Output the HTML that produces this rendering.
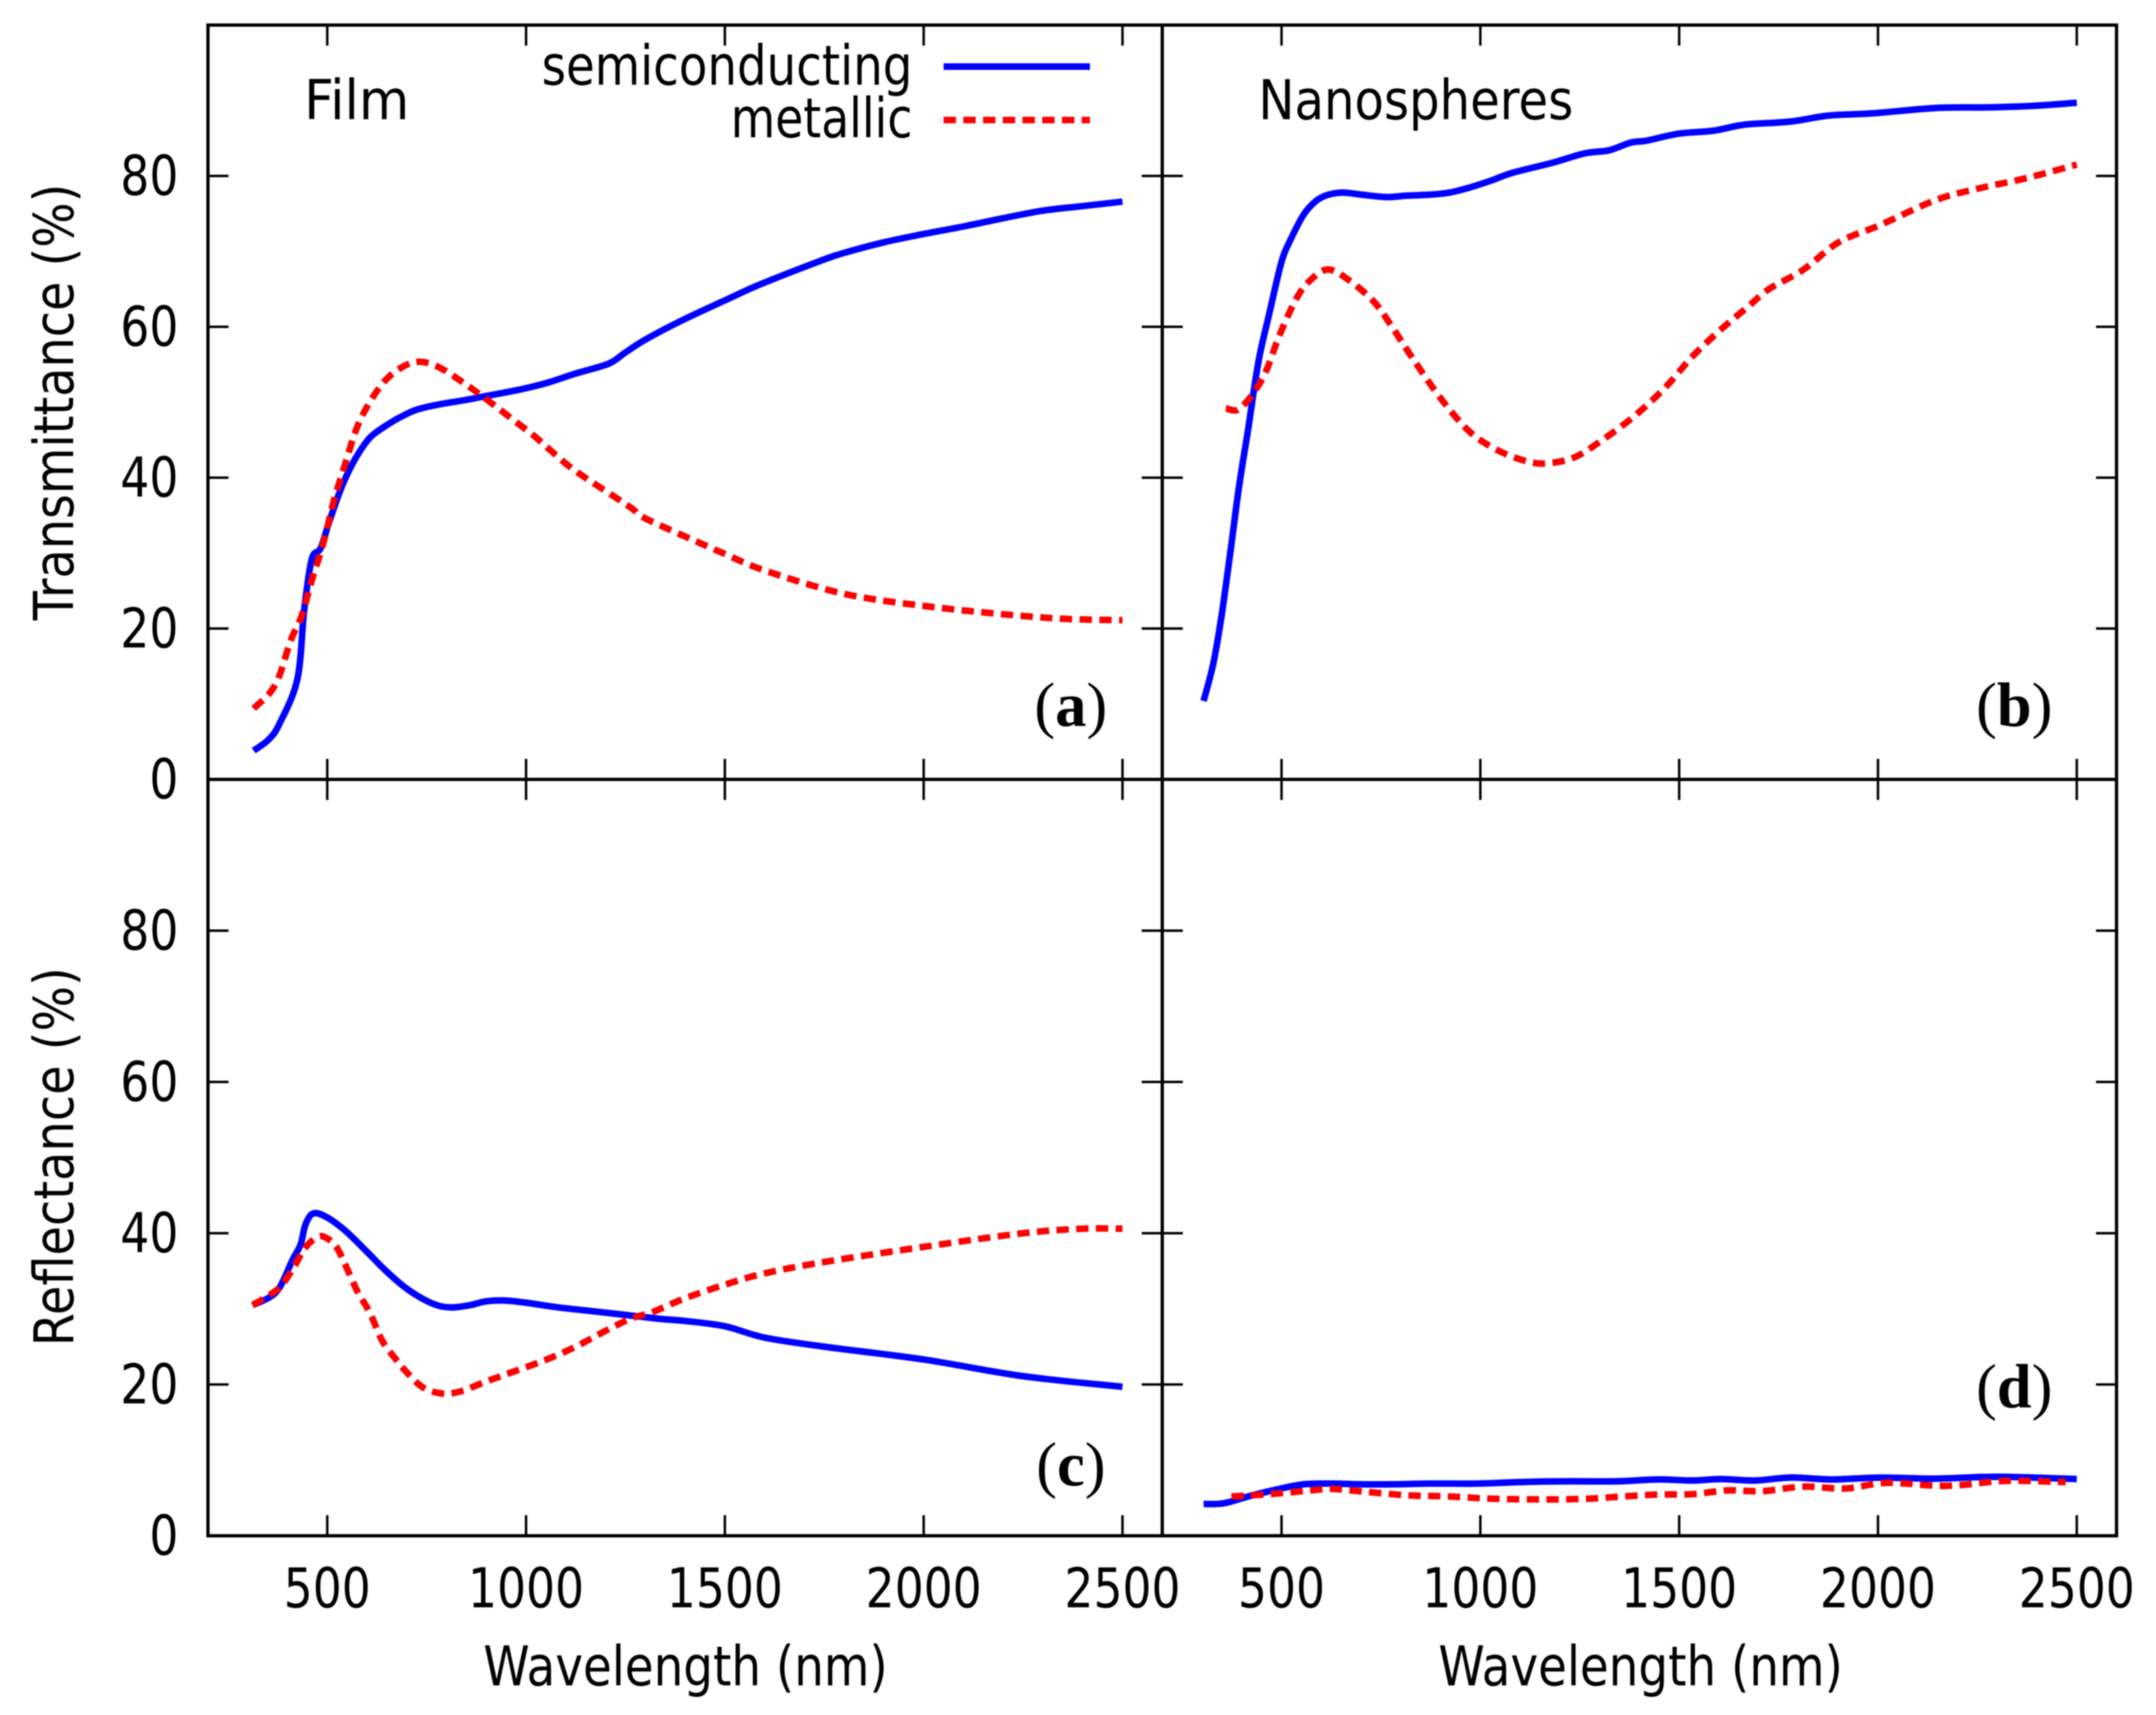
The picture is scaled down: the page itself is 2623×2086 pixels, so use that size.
<!DOCTYPE html>
<html lang="en">
<head>
<meta charset="utf-8">
<title>Transmittance and reflectance spectra</title>
<style>
html,body{margin:0;padding:0;background:#fff;}
svg{display:block;filter:blur(0.7px);}
text{font-family:"DejaVu Sans","Liberation Sans",sans-serif;fill:#000;}
.letter{font-family:"Liberation Serif",serif;font-size:76px;}
.letter tspan{font-weight:bold;}
</style>
</head>
<body>
<svg id="chart" xmlns="http://www.w3.org/2000/svg" width="2623" height="2086" viewBox="0 0 2623 2086">
<rect x="0" y="0" width="2623" height="2086" fill="#fff"/>
<g id="marks"></g>
<g id="axes"></g>
<text transform="translate(89 489) rotate(-90)" text-anchor="middle" font-size="67" textLength="531" lengthAdjust="spacingAndGlyphs">Transmittance (%)</text>
<text transform="translate(89 1407) rotate(-90)" text-anchor="middle" font-size="67" textLength="461" lengthAdjust="spacingAndGlyphs">Reflectance (%)</text>
<text x="834" y="2050" text-anchor="middle" font-size="67" textLength="492" lengthAdjust="spacingAndGlyphs">Wavelength (nm)</text>
<text x="1996" y="2050" text-anchor="middle" font-size="67" textLength="492" lengthAdjust="spacingAndGlyphs">Wavelength (nm)</text>
<text x="370" y="145" font-size="67" textLength="128" lengthAdjust="spacingAndGlyphs">Film</text>
<text x="1531" y="145" font-size="67" textLength="383" lengthAdjust="spacingAndGlyphs">Nanospheres</text>
<g>
<text x="659" y="103" font-size="67" textLength="451" lengthAdjust="spacingAndGlyphs">semiconducting</text>
<line x1="1148" y1="81" x2="1326" y2="81" stroke="#0000ff" stroke-width="8"/>
<text x="889" y="167" font-size="67" textLength="221" lengthAdjust="spacingAndGlyphs">metallic</text>
<line x1="1148" y1="146" x2="1326" y2="146" stroke="#ff0000" stroke-width="8" stroke-dasharray="15 9"/>
</g>
<text class="letter" x="1347" y="883" text-anchor="end">(<tspan>a</tspan>)</text>
<text class="letter" x="2497" y="883" text-anchor="end">(<tspan>b</tspan>)</text>
<text class="letter" x="1345" y="1807" text-anchor="end">(<tspan>c</tspan>)</text>
<text class="letter" x="2497" y="1712" text-anchor="end">(<tspan>d</tspan>)</text>
</svg>
<script>
const xTickValues = [500, 1000, 1500, 2000, 2500];
const yTickValues = [0, 20, 40, 60, 80];

const aSemiX = [315,353,380,425,442,461,483,504,532,559,587,611,642,683,724,780,848,897,986,1055,1124,1207,1250,1300,1390,1496,1588,1733,1800,1900,2000,2100,2200,2300,2400,2500];
const aSemiY = [3.8,5.3,7.4,13.3,22.5,29.2,30.6,34,38.2,41.4,43.9,45.5,46.7,48,49,49.7,50.3,50.8,51.7,52.6,53.8,55.1,56.6,58.3,60.8,63.4,65.6,68.6,69.8,71.2,72.3,73.3,74.4,75.4,76,76.6];
const aMetX = [315,356,380,408,435,463,490,518,545,573,600,635,669,711,745,786,842,890,952,1021,1062,1124,1259,1300,1456,1500,1600,1800,2000,2200,2350,2500];
const aMetY = [9.4,11.5,13.8,18.4,21.6,26.7,31.3,37.2,41.8,46.4,49.4,52.2,54,55.2,55.3,54.5,52.6,50.8,48.3,45.5,43.6,40.9,36.2,34.6,30.9,29.9,27.7,24.6,23,21.9,21.3,21.1];

const bSemiX = [304,329,350,372,393,416,442,469,500,524,556,587,617,655,704,765,818,870,923,975,1028,1080,1185,1263,1324,1377,1420,1499,1586,1665,1779,1875,1988,2145,2285,2390,2500];
const bSemiY = [10.4,15.5,22,30.4,38.8,46.4,55.4,61.7,68.6,71.7,74.9,76.7,77.5,77.8,77.5,77.2,77.4,77.5,77.8,78.5,79.4,80.4,81.8,83,83.4,84.4,84.7,85.6,86,86.8,87.2,88,88.3,89,89.1,89.3,89.7];
const bMetX = [360,390,425,460,495,538,573,617,669,731,774,835,905,975,1045,1115,1167,1237,1307,1386,1464,1534,1604,1674,1726,1813,1901,2006,2145,2250,2372,2500];
const bMetY = [49.2,49,50.9,54,58.9,63.8,66.2,67.6,66.2,63.4,60.3,55.4,50.2,46,43.6,42.2,41.9,42.7,45,48.1,51.9,56.1,59.6,62.7,65,67.6,71.2,73.5,76.8,78.3,79.7,81.5];

const cSemiX = [312,354,381,413,433,445,464,496,544,599,646,694,741,781,816,860,900,947,1002,1081,1200,1333,1400,1500,1600,1750,2000,2250,2500];
const cSemiY = [30.5,31.5,32.9,36.5,38.5,41.1,42.6,42.2,40.4,37.6,35.1,32.9,31.3,30.4,30.2,30.5,31,31.1,30.8,30.2,29.5,28.7,28.4,27.7,26.2,25,23.3,21.1,19.7];
const cMetX = [312,354,385,417,441,464,488,520,544,575,607,638,670,702,741,789,836,900,963,1042,1121,1200,1263,1319,1400,1500,1600,1750,2000,2250,2400,2500];
const cMetY = [30.5,31.8,33.1,35.6,37.8,39.1,39.6,38.4,36,32.4,29.5,25.8,23.5,21.5,19.6,18.8,19.1,20.4,21.6,23.1,24.9,27.1,28.7,29.6,31.4,33.2,34.7,36.2,38.2,40,40.6,40.6];

const dSemiX = [304,355,416,486,556,626,696,783,870,993,1097,1220,1342,1447,1534,1604,1691,1779,1884,2006,2145,2302,2500];
const dSemiY = [4.2,4.3,5.2,6.1,6.8,6.9,6.8,6.8,6.9,6.9,7.1,7.2,7.2,7.45,7.3,7.5,7.3,7.7,7.45,7.7,7.55,7.8,7.5];
const dMetX = [374,469,573,626,713,818,923,1028,1167,1272,1359,1447,1534,1621,1709,1813,1918,2023,2171,2320,2472];
const dMetY = [5.2,5.5,6,6.2,5.8,5.35,5.2,4.9,4.8,4.9,5.2,5.45,5.5,6,5.9,6.5,6.25,7,6.6,7.25,7.1];

const NS = 'http://www.w3.org/2000/svg';
const marks = document.getElementById('marks');
const axes = document.getElementById('axes');
const xLeft = 253, xMid = 1414, xRight = 2575, yTop = 30.5, yMid = 948, yBottom = 1868;
const X_MIN = 200, X_MAX = 2600, Y_MAX = 100;

function xAxis(col) {
  const x0 = col === 0 ? xLeft : xMid;
  return v => x0 + (v - X_MIN) * (xMid - xLeft) / (X_MAX - X_MIN);
}
function yAxis(row) {
  const y0 = row === 0 ? yMid : yBottom;
  const y1 = row === 0 ? yTop : yMid;
  return v => y0 - v * (y0 - y1) / Y_MAX;
}
function line(x1, y1, x2, y2, w) {
  const el = document.createElementNS(NS, 'line');
  el.setAttribute('x1', x1);
  el.setAttribute('y1', y1);
  el.setAttribute('x2', x2);
  el.setAttribute('y2', y2);
  el.setAttribute('stroke', '#000');
  el.setAttribute('stroke-width', w);
  axes.appendChild(el);
  return el;
}
function label(str, x, y, anchor) {
  const el = document.createElementNS(NS, 'text');
  el.setAttribute('x', x);
  el.setAttribute('y', y);
  el.setAttribute('text-anchor', anchor);
  el.setAttribute('font-size', '67');
  el.setAttribute('textLength', str.length * 35.3);
  el.setAttribute('lengthAdjust', 'spacingAndGlyphs');
  el.textContent = str;
  axes.appendChild(el);
  return el;
}
function smoothPath(pts) {
  let d = 'M' + pts[0][0].toFixed(1) + ' ' + pts[0][1].toFixed(1);
  for (let i = 0; i < pts.length - 1; i++) {
    const p0 = pts[Math.max(0, i - 1)], p1 = pts[i], p2 = pts[i + 1], p3 = pts[Math.min(pts.length - 1, i + 2)];
    const c1x = p1[0] + (p2[0] - p0[0]) / 6, c1y = p1[1] + (p2[1] - p0[1]) / 6;
    const c2x = p2[0] - (p3[0] - p1[0]) / 6, c2y = p2[1] - (p3[1] - p1[1]) / 6;
    d += ' C' + c1x.toFixed(1) + ' ' + c1y.toFixed(1) + ' ' + c2x.toFixed(1) + ' ' + c2y.toFixed(1) + ' ' + p2[0].toFixed(1) + ' ' + p2[1].toFixed(1);
  }
  return d;
}
function series(col, row, xs, ys, color, dashed, name) {
  const fx = xAxis(col), fy = yAxis(row);
  const el = document.createElementNS(NS, 'path');
  el.setAttribute('d', smoothPath(xs.map((v, i) => [fx(v), fy(ys[i])])));
  el.setAttribute('fill', 'none');
  el.setAttribute('stroke', color);
  el.setAttribute('stroke-width', '8');
  el.setAttribute('stroke-linejoin', 'round');
  if (dashed) el.setAttribute('stroke-dasharray', '15 9');
  
  
  marks.appendChild(el);
}

series(0, 0, aSemiX, aSemiY, '#0000ff', false, 'film-transmittance-semiconducting');
series(0, 0, aMetX, aMetY, '#ff0000', true, 'film-transmittance-metallic');
series(1, 0, bSemiX, bSemiY, '#0000ff', false, 'nanospheres-transmittance-semiconducting');
series(1, 0, bMetX, bMetY, '#ff0000', true, 'nanospheres-transmittance-metallic');
series(0, 1, cSemiX, cSemiY, '#0000ff', false, 'film-reflectance-semiconducting');
series(0, 1, cMetX, cMetY, '#ff0000', true, 'film-reflectance-metallic');
series(1, 1, dSemiX, dSemiY, '#0000ff', false, 'nanospheres-reflectance-semiconducting');
series(1, 1, dMetX, dMetY, '#ff0000', true, 'nanospheres-reflectance-metallic');

/* frame */
const frameEl = document.createElementNS(NS, 'rect');
frameEl.setAttribute('x', xLeft);
frameEl.setAttribute('y', yTop);
frameEl.setAttribute('width', xRight - xLeft);
frameEl.setAttribute('height', yBottom - yTop);
frameEl.setAttribute('fill', 'none');
frameEl.setAttribute('stroke', '#000');
frameEl.setAttribute('stroke-width', '4');


axes.appendChild(frameEl);

const midH = line(xLeft, yMid, xRight, yMid, 4);


const midV = line(xMid, yTop, xMid, yBottom, 4);



/* x ticks */
const TICK = 25;
[0, 1].forEach(col => {
  const fx = xAxis(col);
  xTickValues.forEach(v => {
    [[yTop, yTop + TICK], [yMid - TICK, yMid + TICK], [yBottom - TICK, yBottom]].forEach(seg => {
      const t = line(fx(v), seg[0], fx(v), seg[1], 3);
      
      
    });
    const lab = label(String(v), fx(v), 1955, 'middle');
    
    
  });
});

/* y ticks */
[0, 1].forEach(row => {
  const fy = yAxis(row);
  yTickValues.forEach(v => {
    if (v === 0) {
      return;
    }
    [[xLeft, xLeft + TICK], [xMid - TICK, xMid + TICK], [xRight - TICK, xRight]].forEach(seg => {
      const t = line(seg[0], fy(v), seg[1], fy(v), 3);
      
      
    });
  });
  yTickValues.forEach(v => {
    const lab = label(String(v), 217, fy(v) + 23, 'end');
    
    
  });
});
</script>
</body>
</html>
